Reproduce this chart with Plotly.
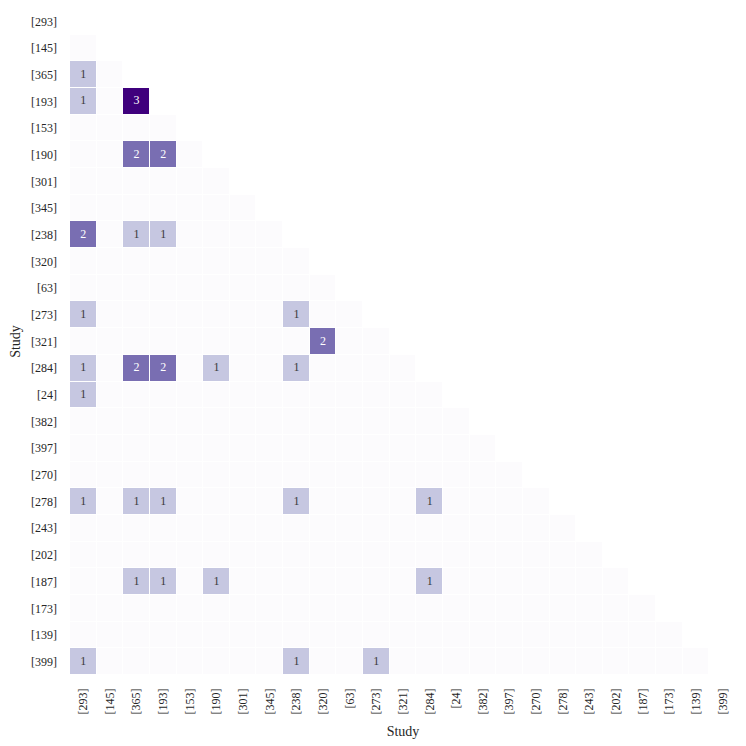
import plotly.graph_objects as go

# Study labels (same order on both axes)
studies = ["[293]", "[145]", "[365]", "[193]", "[153]", "[190]", "[301]", "[345]",
           "[238]", "[320]", "[63]", "[273]", "[321]", "[284]", "[24]", "[382]",
           "[397]", "[270]", "[278]", "[243]", "[202]", "[187]", "[173]", "[139]", "[399]"]

# Non-zero shared counts: (row study, column study, count)
shared = [
    ("[365]", "[293]", 1),
    ("[193]", "[293]", 1), ("[193]", "[365]", 3),
    ("[190]", "[365]", 2), ("[190]", "[193]", 2),
    ("[238]", "[293]", 2), ("[238]", "[365]", 1), ("[238]", "[193]", 1),
    ("[273]", "[293]", 1), ("[273]", "[238]", 1),
    ("[321]", "[320]", 2),
    ("[284]", "[293]", 1), ("[284]", "[365]", 2), ("[284]", "[193]", 2),
    ("[284]", "[190]", 1), ("[284]", "[238]", 1),
    ("[24]", "[293]", 1),
    ("[278]", "[293]", 1), ("[278]", "[365]", 1), ("[278]", "[193]", 1),
    ("[278]", "[238]", 1), ("[278]", "[284]", 1),
    ("[187]", "[365]", 1), ("[187]", "[193]", 1), ("[187]", "[190]", 1),
    ("[187]", "[284]", 1),
    ("[399]", "[293]", 1), ("[399]", "[238]", 1), ("[399]", "[273]", 1),
]

n = len(studies)
idx = {s: i for i, s in enumerate(studies)}

# lower triangle (below the diagonal) filled with zeros, rest masked
z = [[0 if j < i else None for j in range(n)] for i in range(n)]
for r, c, v in shared:
    z[idx[r]][idx[c]] = v

font = "Liberation Serif"

fig = go.Figure()
fig.add_trace(go.Heatmap(
    z=z, x=studies, y=studies,
    colorscale="Purples", zmin=0, zmax=3,
    xgap=1, ygap=1, showscale=False,
    hoverongaps=False,
))

# cell labels for non-zero counts
fig.add_trace(go.Scatter(
    x=[c for r, c, v in shared],
    y=[r for r, c, v in shared],
    text=[str(v) for r, c, v in shared],
    mode="text",
    textfont=dict(family=font, size=12,
                  color=["#3a3a3a" if v < 2 else "#ffffff" for r, c, v in shared]),
    hoverinfo="skip", showlegend=False,
))

# page body adds an 8px margin, so the figure is a bit smaller than the window
fig.update_layout(
    width=738, height=738,
    margin=dict(l=62, r=10, t=0, b=71),
    plot_bgcolor="white", paper_bgcolor="white",
    font=dict(family=font, size=12, color="#262626"),
    showlegend=False,
)
fig.update_xaxes(title=dict(text="Study", font=dict(size=14), standoff=12),
                 range=[-0.5, n - 0.5],
                 tickangle=-90, showgrid=False, zeroline=False, automargin=False,
                 ticks="", ticklabelstandoff=10,
                 categoryorder="array", categoryarray=studies)
fig.update_yaxes(title=dict(text="Study", font=dict(size=14), standoff=10),
                 range=[n - 0.5, -0.5],
                 showgrid=False, zeroline=False, automargin=False,
                 ticks="", ticklabelstandoff=12,
                 categoryorder="array", categoryarray=studies)

fig.write_html("out.html")
